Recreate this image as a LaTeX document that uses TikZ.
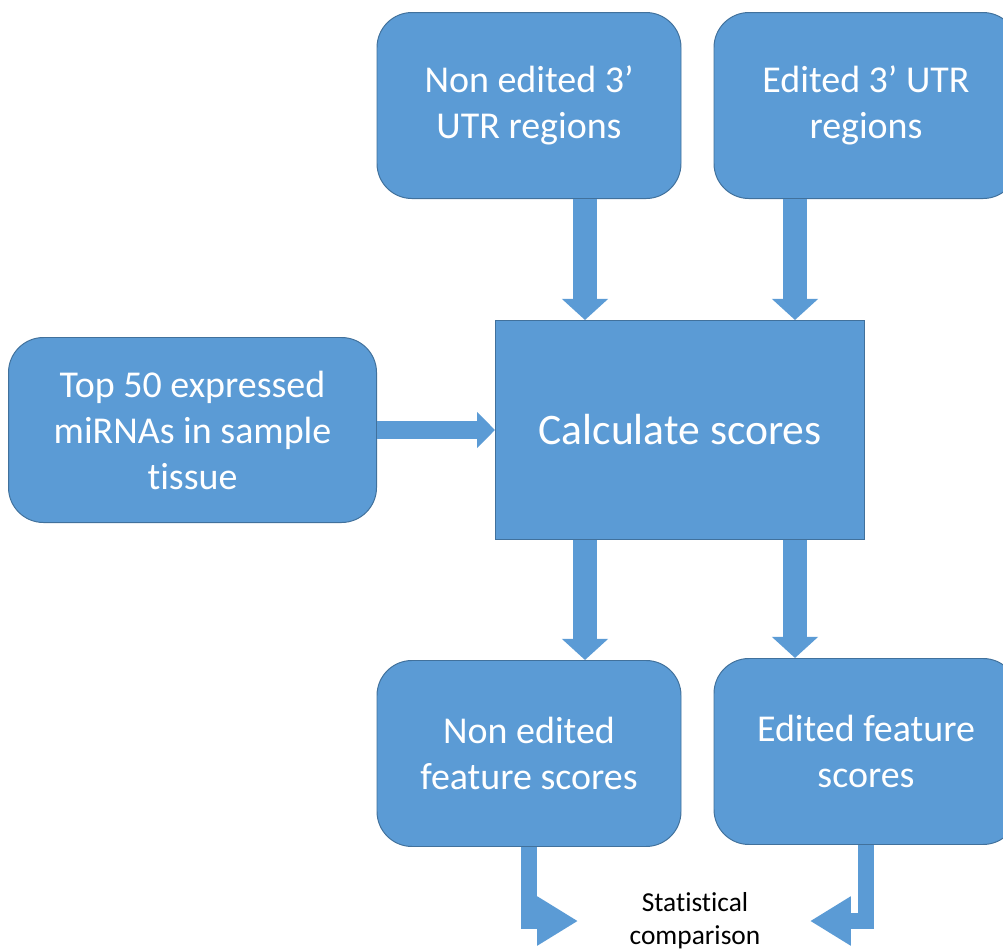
\documentclass[tikz,border=0pt]{standalone}
\usepackage{fontspec}
\setmainfont{Carlito}[Ligatures=NoCommon]
\usetikzlibrary{arrows.meta,positioning}
\definecolor{boxblue}{HTML}{5B9BD5}
\definecolor{boxline}{HTML}{41719C}

\begin{document}
\begin{tikzpicture}[node distance=3cm]
		\tikzstyle{startstop} = [rectangle, rounded corners=0.875cm, minimum width=7.6cm, 
		minimum height=4.65cm, align=center, draw=boxline, line width=0.7pt, fill=boxblue, 
		text=white, font=\fontsize{27}{32.7}\selectfont]
		\tikzstyle{process} = [rectangle, minimum width=9.225cm, minimum height=5.475cm, 
		align=center, draw=boxline, line width=0.7pt, fill=boxblue, text=white, 
		font=\fontsize{31}{38}\selectfont]
		\tikzstyle{arrow} = [draw=boxblue, line width=17pt, -{Triangle[width=32pt,length=15pt]}]
		\tikzstyle{bent} = [draw=boxblue, line width=10.7pt, -{Triangle[width=33pt,length=29pt]}]
		\useasboundingbox (0,0) rectangle (25.075,-23.775);
		\node (calc) [process] at (17,-10.75) {Calculate scores};
		\node (nonEdited) [startstop, above=3.025cm of calc, xshift=-3.775cm] {Non edited 3’\\UTR regions};
		\node (edited) [startstop, above=3.025cm of calc, xshift=4.65cm] {Edited 3’ UTR\\regions};
		\node (top50) [startstop, minimum width=9.2cm, minimum height=4.625cm, left=2.95cm of calc] {Top 50 expressed\\miRNAs in sample\\tissue};
		\node (nonEditedScores) [startstop, below=3cm of calc, xshift=-3.775cm] {Non edited\\feature scores};
		\node (editedScores) [startstop, below=2.95cm of calc, xshift=4.65cm] {Edited feature\\scores};
		\node (stat) [align=center, font=\fontsize{19.5}{23.5}\selectfont] at (17.375,-23.025) {Statistical\\comparison};
		\coordinate (statL) at (14.45,-23.025);
		\coordinate (statR) at (20.25,-23.025);
		\draw [arrow] ([xshift=1.4cm]nonEdited.south) -- ([xshift=-2.375cm]calc.north);
		\draw [arrow] ([xshift=-1.775cm]edited.south) -- ([xshift=2.875cm]calc.north);
		\draw [arrow, line width=12.8pt, -{Triangle[width=25pt,length=12.8pt]}] (top50) -- (calc);
		\draw [arrow] ([xshift=-2.375cm]calc.south) -- ([xshift=1.4cm]nonEditedScores.north);
		\draw [arrow] ([xshift=2.875cm]calc.south) -- ([xshift=-1.775cm]editedScores.north);
		\draw [bent] (nonEditedScores.south) |- (statL);
		\draw [bent] (editedScores.south) |- (statR);
\end{tikzpicture}
\end{document}
